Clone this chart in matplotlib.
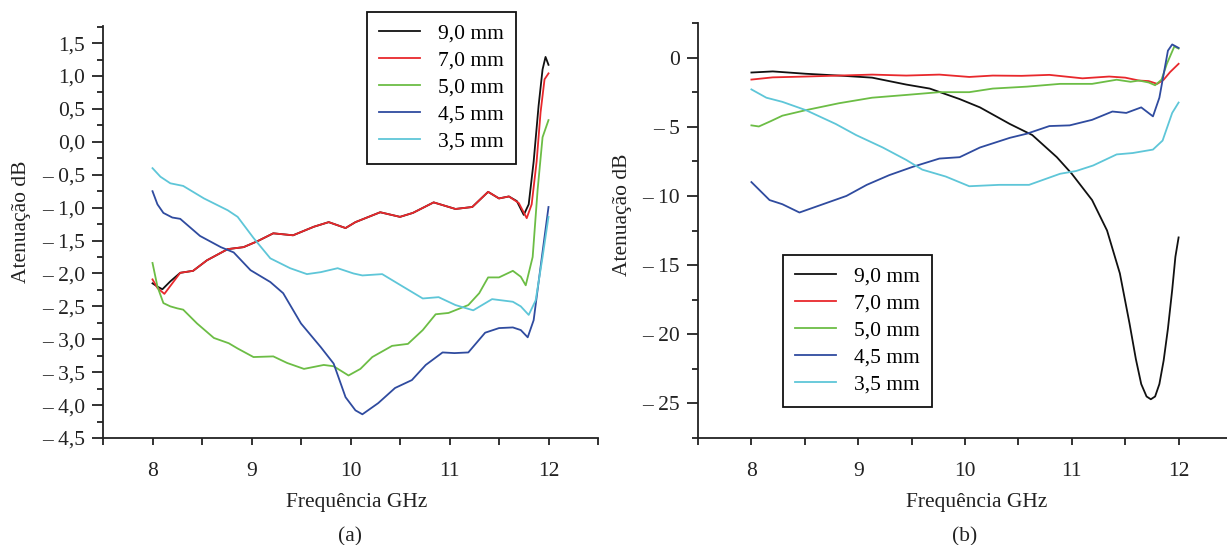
import matplotlib
matplotlib.use("Agg")
import matplotlib.pyplot as plt
from matplotlib.ticker import MultipleLocator, FuncFormatter

plt.rcParams['font.family'] = ['Liberation Serif', 'DejaVu Serif']

labels = ["9,0 mm", "7,0 mm", "5,0 mm", "4,5 mm", "3,5 mm"]
colors = ["#111111", "#e8282c", "#6cbd45", "#2f4b9f", "#5ec6d8"]

# ---------------- panel (a) ----------------
a_f_black = [8.0, 8.05, 8.1, 8.18, 8.28, 8.41, 8.55, 8.76, 8.92, 9.06, 9.22, 9.42, 9.63, 9.78, 9.95, 10.05,
             10.3, 10.5, 10.63, 10.84, 11.06, 11.23, 11.39, 11.5, 11.6, 11.68, 11.75, 11.8, 11.85, 11.9, 11.94, 11.97, 12.0]
a_v_black = [-2.15, -2.2, -2.24, -2.12, -1.99, -1.96, -1.80, -1.63, -1.60, -1.51, -1.39, -1.42, -1.29, -1.22, -1.31, -1.22,
             -1.07, -1.14, -1.08, -0.92, -1.02, -0.99, -0.76, -0.86, -0.83, -0.90, -1.11, -0.95, -0.3, 0.55, 1.1, 1.29, 1.17]
a_f_red = [8.0, 8.05, 8.12, 8.2, 8.28, 8.41, 8.55, 8.76, 8.92, 9.06, 9.22, 9.42, 9.63, 9.78, 9.95, 10.05,
           10.3, 10.5, 10.63, 10.84, 11.06, 11.23, 11.39, 11.5, 11.6, 11.7, 11.78, 11.83, 11.88, 11.92, 11.96, 12.0]
a_v_red = [-2.09, -2.22, -2.31, -2.15, -1.99, -1.96, -1.80, -1.63, -1.60, -1.51, -1.39, -1.42, -1.29, -1.22, -1.31, -1.22,
           -1.07, -1.14, -1.08, -0.92, -1.02, -0.99, -0.76, -0.86, -0.83, -0.93, -1.16, -0.95, -0.3, 0.45, 0.95, 1.04]
a_f_green = [8.0, 8.05, 8.11, 8.18, 8.25, 8.31, 8.45, 8.62, 8.77, 8.86, 9.02, 9.22, 9.36, 9.53, 9.73, 9.83, 9.98,
             10.1, 10.22, 10.42, 10.58, 10.73, 10.86, 10.99, 11.19, 11.3, 11.39, 11.5, 11.64, 11.72, 11.77, 11.84, 11.89, 11.94, 12.0]
a_v_green = [-1.84, -2.2, -2.45, -2.5, -2.53, -2.55, -2.76, -2.98, -3.06, -3.14, -3.27, -3.26, -3.36, -3.45, -3.39, -3.41, -3.55,
             -3.45, -3.27, -3.1, -3.07, -2.86, -2.62, -2.6, -2.48, -2.3, -2.06, -2.06, -1.96, -2.05, -2.18, -1.75, -0.73, 0.07, 0.33]
a_f_blue = [8.0, 8.05, 8.11, 8.2, 8.28, 8.48, 8.69, 8.82, 8.99, 9.19, 9.32, 9.5, 9.7, 9.83, 9.95, 10.05, 10.12,
            10.28, 10.45, 10.62, 10.76, 10.93, 11.05, 11.19, 11.36, 11.5, 11.64, 11.72, 11.79, 11.85, 11.92, 12.0]
a_v_blue = [-0.75, -0.95, -1.08, -1.15, -1.17, -1.43, -1.60, -1.68, -1.95, -2.13, -2.30, -2.76, -3.12, -3.37, -3.88, -4.08, -4.14,
            -3.97, -3.74, -3.62, -3.39, -3.2, -3.21, -3.2, -2.9, -2.83, -2.82, -2.86, -2.97, -2.71, -1.9, -0.99]
a_f_cyan = [8.0, 8.08, 8.18, 8.31, 8.52, 8.76, 8.86, 9.02, 9.19, 9.39, 9.56, 9.7, 9.87, 10.03, 10.12, 10.32,
            10.53, 10.73, 10.89, 11.06, 11.24, 11.43, 11.64, 11.72, 11.8, 11.87, 11.94, 12.0]
a_v_cyan = [-0.40, -0.53, -0.63, -0.67, -0.86, -1.04, -1.14, -1.46, -1.77, -1.92, -2.01, -1.98, -1.92, -2.0, -2.03, -2.01,
            -2.2, -2.38, -2.36, -2.48, -2.56, -2.39, -2.43, -2.5, -2.63, -2.41, -1.75, -1.14]

# ---------------- panel (b) ----------------
b_f_black = [8.0, 8.2, 8.51, 8.82, 9.13, 9.45, 9.67, 9.95, 10.14, 10.42, 10.63, 10.86, 11.0, 11.19, 11.33, 11.45,
             11.54, 11.6, 11.65, 11.7, 11.74, 11.78, 11.82, 11.86, 11.9, 11.94, 11.97, 12.0]
b_v_black = [-1.08, -1.0, -1.17, -1.3, -1.45, -1.95, -2.24, -3.0, -3.6, -4.8, -5.6, -7.2, -8.4, -10.3, -12.5, -15.6,
             -19.2, -21.8, -23.6, -24.5, -24.7, -24.5, -23.6, -21.9, -19.6, -16.8, -14.4, -13.0]
b_f_red = [8.0, 8.2, 8.51, 8.82, 9.13, 9.45, 9.76, 10.04, 10.26, 10.53, 10.79, 11.1, 11.35, 11.5, 11.63, 11.72, 11.8,
           11.86, 11.92, 12.0]
b_v_red = [-1.59, -1.43, -1.37, -1.3, -1.23, -1.3, -1.23, -1.4, -1.3, -1.32, -1.25, -1.5, -1.37, -1.45, -1.66, -1.7, -1.9,
           -1.6, -1.05, -0.45]
b_f_green = [8.0, 8.07, 8.18, 8.29, 8.51, 8.82, 9.13, 9.45, 9.76, 10.04, 10.26, 10.58, 10.89, 11.19, 11.42, 11.55,
             11.63, 11.72, 11.78, 11.84, 11.89, 11.96, 12.0]
b_v_green = [-4.9, -4.98, -4.6, -4.2, -3.8, -3.3, -2.9, -2.7, -2.5, -2.5, -2.24, -2.1, -1.9, -1.9, -1.6, -1.75,
             -1.66, -1.8, -2.0, -1.6, -0.45, 0.8, 0.65]
b_f_blue = [8.0, 8.17, 8.29, 8.45, 8.67, 8.89, 9.08, 9.29, 9.51, 9.76, 9.95, 10.14, 10.42, 10.58, 10.79, 10.98,
            11.19, 11.38, 11.51, 11.65, 11.76, 11.82, 11.9, 11.94, 12.0]
b_v_blue = [-9.0, -10.3, -10.6, -11.2, -10.6, -10.0, -9.2, -8.5, -7.9, -7.3, -7.2, -6.5, -5.8, -5.5, -4.95, -4.9,
            -4.5, -3.9, -4.0, -3.6, -4.25, -2.9, 0.5, 0.95, 0.7]
b_f_cyan = [8.0, 8.14, 8.29, 8.51, 8.79, 8.98, 9.23, 9.45, 9.6, 9.82, 10.04, 10.32, 10.6, 10.89, 11.04, 11.2, 11.42,
            11.57, 11.76, 11.85, 11.94, 12.0]
b_v_cyan = [-2.3, -2.9, -3.2, -3.8, -4.8, -5.6, -6.5, -7.4, -8.1, -8.6, -9.3, -9.2, -9.2, -8.4, -8.2, -7.8, -7.0,
            -6.9, -6.65, -6.0, -4.0, -3.25]

a_series = [(a_f_black, a_v_black), (a_f_red, a_v_red), (a_f_green, a_v_green), (a_f_blue, a_v_blue), (a_f_cyan, a_v_cyan)]
b_series = [(b_f_black, b_v_black), (b_f_red, b_v_red), (b_f_green, b_v_green), (b_f_blue, b_v_blue), (b_f_cyan, b_v_cyan)]

W, H = 1227, 545
FS = 15.5
fig = plt.figure(figsize=(W / 100, H / 100), dpi=100)

def px_axes(x0, y0, x1, y1):
    return fig.add_axes([x0 / W, 1 - y1 / H, (x1 - x0) / W, (y1 - y0) / H])

def fmt(dec):
    def f(v, pos):
        s = f"{abs(v):.{dec}f}".replace('.', ',')
        if v < -1e-9:
            return "\u2013 " + s
        return s
    return FuncFormatter(f)

axA = px_axes(103, 26, 598, 438)
axB = px_axes(698, 23, 1232, 438)

for ax, series in ((axA, a_series), (axB, b_series)):
    for (f, v), c, lab in zip(series, colors, labels):
        ax.plot(f, v, color=c, lw=1.3, label=lab, solid_joinstyle='round')
    for s in ('top', 'right'):
        ax.spines[s].set_visible(False)
    for s in ('left', 'bottom'):
        ax.spines[s].set_linewidth(1.3)
        ax.spines[s].set_color('#222222')
    ax.set_xlim(7.5, 12.5)
    ax.xaxis.set_major_locator(MultipleLocator(1))
    ax.xaxis.set_minor_locator(MultipleLocator(0.5))
    ax.tick_params(axis='x', which='both', direction='out', length=5, width=1.3, pad=12, labelsize=FS, colors='#222222')
    ax.tick_params(axis='y', which='major', direction='out', length=8, width=1.3, pad=5, labelsize=FS, colors='#222222')
    ax.tick_params(axis='y', which='minor', direction='out', length=4, width=1.3, colors='#222222')

axA.set_ylim(-4.5, 1.76)
axA.yaxis.set_major_locator(MultipleLocator(0.5))
axA.yaxis.set_minor_locator(MultipleLocator(0.25))
axA.yaxis.set_major_formatter(fmt(1))

axB.set_ylim(-27.5, 2.5)
axB.yaxis.set_major_locator(MultipleLocator(5))
axB.yaxis.set_minor_locator(MultipleLocator(2.5))
axB.yaxis.set_major_formatter(fmt(0))

leg_kw = dict(loc='upper left', bbox_transform=fig.transFigure, borderaxespad=0, fancybox=False,
              edgecolor='#111111', fontsize=FS, handlelength=1.9, handletextpad=0.85,
              labelspacing=0.32, borderpad=0.55, framealpha=1)
legA = axA.legend(bbox_to_anchor=(367 / W, 1 - 12 / H), **leg_kw)
legB = axB.legend(bbox_to_anchor=(783 / W, 1 - 255 / H), **leg_kw)
for leg in (legA, legB):
    leg.get_frame().set_linewidth(1.3)

def ftext(x, y, s, **kw):
    fig.text(x / W, 1 - y / H, s, ha='center', va='center', fontsize=FS, color='#222222', **kw)

ftext(357, 503, "Frequência GHz")
ftext(350, 537, "(a)")
ftext(977, 503, "Frequência GHz")
ftext(965, 537, "(b)")
ftext(22, 222, "Atenuação dB", rotation=90)
ftext(622, 215, "Atenuação dB", rotation=90)

fig.savefig("out.png", dpi=100)
